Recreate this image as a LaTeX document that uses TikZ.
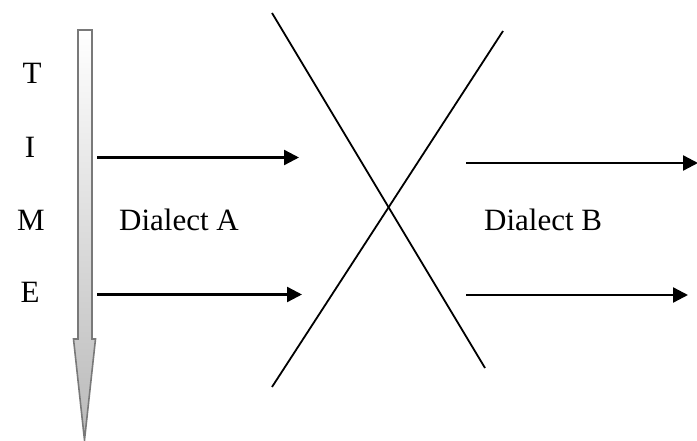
\documentclass[tikz,border=0pt]{standalone}
\usepackage{fontspec}
\setmainfont{Liberation Serif}
\usetikzlibrary{arrows.meta}
\begin{document}
\begin{tikzpicture}[x=1pt,y=-1pt,
  lbl/.style={anchor=base west,inner sep=0pt,font=\fontsize{31}{36}\selectfont},
  let/.style={anchor=base,inner sep=0pt,font=\fontsize{31}{36}\selectfont},
  flow/.style={line width=2.4pt,-{Triangle[length=15pt,width=15pt]}},
  crossline/.style={line width=1.8pt}]
\useasboundingbox (0,0) rectangle (697,441);
% time arrow
\shade[top color=white,bottom color=gray!55,draw=gray!95!black,line width=1.6pt,line join=miter]
  (78,30) -- (92,30) -- (92,339) -- (95.5,339) -- (84.5,440) -- (73.5,339) -- (78,339) -- cycle;
% letters
\node[let] (t) at (32,84) {T};
\node[let] (i) at (30,158) {I};
\node[let] (m) at (31,231) {M};
\node[let] (e) at (30,302) {E};
\node[lbl] (da) at (119,231) {Dialect A};
\node[lbl] (db) at (484,231) {Dialect B};
% cross
\coordinate (c1a) at (272,13);
\coordinate (c1b) at (485,368);
\coordinate (c2a) at (503,31);
\coordinate (c2b) at (272,387);
\draw[crossline] (c1a) -- (c1b);
\draw[crossline] (c2a) -- (c2b);
% arrows
\coordinate (a1s) at (97,157.5);
\coordinate (a1e) at (299,157.5);
\coordinate (a2s) at (97,294.5);
\coordinate (a2e) at (302,294.5);
\coordinate (b1s) at (466,163);
\coordinate (b1e) at (698,163);
\coordinate (b2s) at (466,295);
\coordinate (b2e) at (688,295);
\draw[flow] (a1s) -- (a1e);
\draw[flow] (a2s) -- (a2e);
\draw[flow] (b1s) -- (b1e);
\draw[flow] (b2s) -- (b2e);
\end{tikzpicture}
\end{document}
